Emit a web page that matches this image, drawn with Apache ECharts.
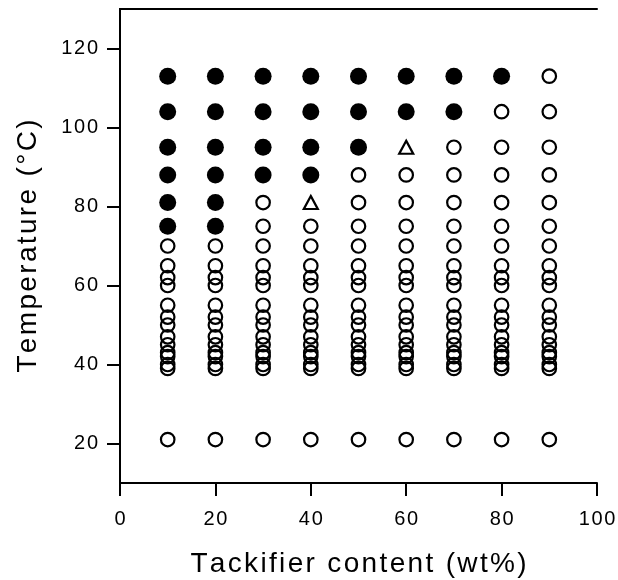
<!DOCTYPE html>
<html>
<head>
<meta charset="utf-8">
<script src="https://cdn.jsdelivr.net/npm/echarts@6/dist/echarts.min.js"></script>
<style>
  html, body { margin: 0; padding: 0; background: #fff; }
  #chart { width: 618px; height: 580px; }
</style>
</head>
<body>
<div id="chart"></div>
<script>
// Tackifier content of each blend (wt%)
const contents = [10, 20, 30, 40, 50, 60, 70, 80, 90];
// Temperatures at which each blend was examined (°C)
const temperatures = [21, 39, 40, 42, 43, 45, 47, 50, 52, 55, 60, 62, 65, 70, 75, 81, 88, 95, 104, 113];
// Lowest temperature with a filled (solid) result, per blend; null = none
const filledFrom = [75, 75, 88, 88, 95, 104, 104, 113, null];
// Transition points drawn as open triangles: [content, temperature]
const transitionPoints = [[40, 81], [60, 95]];
// Axis tick values
const xTicks = [0, 20, 40, 60, 80, 100];
const yTicks = [20, 40, 60, 80, 100, 120];
const xTitle = 'Tackifier content (wt%)';
const yTitle = 'Temperature (°C)';

const filled = [], open = [];
contents.forEach((c, i) => {
  temperatures.forEach(t => {
    if (transitionPoints.some(p => p[0] === c && p[1] === t)) return;
    if (filledFrom[i] !== null && t >= filledFrom[i]) filled.push([c, t]);
    else open.push([c, t]);
  });
});

// Letter-spaced lettering: narrow spaces between characters
const spaced = (s, sp) => String(s).split('').join(sp);
const HAIR = '\u200A';

const font = 'Liberation Sans, Arial, Helvetica, sans-serif';
const axisLine = { show: true, lineStyle: { color: '#000', width: 2 } };

const chart = echarts.init(document.getElementById('chart'), null, { renderer: 'canvas' });
chart.setOption({
  backgroundColor: '#fff',
  animation: false,
  grid: { left: 120, right: 21, top: 9, bottom: 97, show: false, outerBoundsMode: 'none', containLabel: false },
  xAxis: [{
    type: 'value', min: 0, max: 100, interval: 20,
    name: spaced(xTitle, HAIR), nameLocation: 'middle', nameGap: 67,
    nameTextStyle: { fontFamily: font, fontSize: 28, color: '#000' },
    axisLine: axisLine,
    axisTick: { show: true, length: 13, inside: false, customValues: xTicks, lineStyle: { color: '#000', width: 2 } },
    axisLabel: { fontFamily: font, fontSize: 20, color: '#000', margin: 26, customValues: xTicks, formatter: v => spaced(v, HAIR) },
    splitLine: { show: false }
  }, {
    type: 'value', min: 0, max: 100, position: 'top',
    axisLine: axisLine, axisTick: { show: false }, axisLabel: { show: false }, splitLine: { show: false }
  }],
  yAxis: [{
    type: 'value', min: 10, max: 130,
    name: spaced(yTitle, HAIR), nameLocation: 'middle', nameGap: 78,
    nameTextStyle: { fontFamily: font, fontSize: 28, color: '#000' },
    axisLine: axisLine,
    axisTick: { show: true, length: 13, customValues: yTicks, lineStyle: { color: '#000', width: 2 } },
    axisLabel: { fontFamily: font, fontSize: 20, color: '#000', margin: 22, customValues: yTicks, formatter: v => spaced(v, HAIR) },
    splitLine: { show: false }
  }, {
    type: 'value', min: 10, max: 130, position: 'right',
    axisLine: axisLine, axisTick: { show: false }, axisLabel: { show: false }, splitLine: { show: false }
  }],
  series: [{
    name: 'filled', type: 'scatter', data: filled, symbol: 'circle', symbolSize: 17,
    itemStyle: { color: '#000', opacity: 1 }
  }, {
    name: 'open', type: 'scatter', data: open, symbol: 'circle', symbolSize: 13.5,
    itemStyle: { color: 'rgba(0,0,0,0)', borderColor: '#000', borderWidth: 2.2, opacity: 1 }
  }, {
    name: 'transition', type: 'scatter', data: transitionPoints, symbol: 'triangle', symbolSize: [14, 13],
    itemStyle: { color: 'rgba(0,0,0,0)', borderColor: '#000', borderWidth: 2.2, opacity: 1 }
  }]
});
</script>
</body>
</html>
